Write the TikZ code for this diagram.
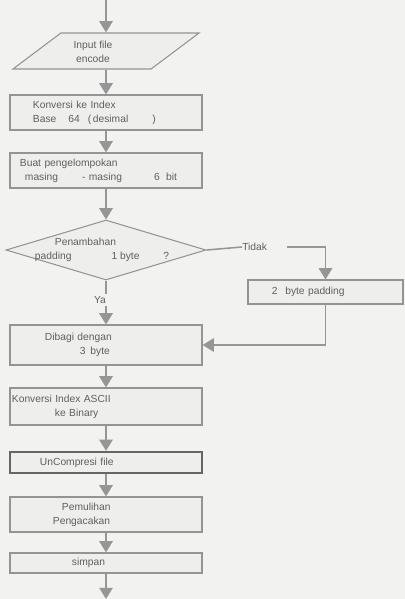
\documentclass[tikz,border=0pt]{standalone}
\usepackage{fontspec}
\setmainfont{Liberation Sans}
\usetikzlibrary{arrows.meta,shapes.geometric}

\definecolor{paper}{RGB}{242,242,240}
\definecolor{boxfill}{RGB}{238,238,236}
\definecolor{boxline}{RGB}{148,148,148}
\definecolor{linegray}{RGB}{150,150,150}
\definecolor{txtgray}{RGB}{95,95,95}

\begin{document}
\begin{tikzpicture}[x=0.025cm, y=-0.025cm,
    font=\fontsize{7.3}{10}\selectfont, text=txtgray,
    box/.style={draw=boxline, line width=0.75pt, fill=boxfill, rectangle,
      align=left, inner ysep=0pt, minimum width=4.8cm},
    flow/.style={draw=linegray, line width=1.3pt, -{Triangle[width=9.5pt,length=8pt]}},
    plain/.style={draw=linegray, line width=1.1pt}]

      \fill[paper] (0,0) rectangle (405,599);
      \useasboundingbox (0,0) rectangle (405,599);

      \coordinate (start) at (106,0);
      \coordinate (stop) at (106,599);

      \node[draw=boxline, line width=0.75pt, fill=boxfill, trapezium,
        trapezium left angle=62, trapezium right angle=118, trapezium stretches=true,
        minimum width=4.65cm, minimum height=0.9cm, inner sep=1pt] (inp) at (106,51) {};
      \node[align=center] (inptxt) at (93,51.5) {Input file\\encode};

      \node[box, minimum height=0.875cm, inner xsep=0.575cm, text width=3.65cm] (k64) at (106,112.5)
        {Konversi ke Index\\Base\hspace{0.3cm}64\hspace{0.2cm}(\,desimal\hspace{0.6cm})};

      \node[box, minimum height=0.875cm, inner xsep=0.25cm, text width=4.3cm] (grp) at (106,170.5)
        {Buat pengelompokan\\\hspace*{0.125cm}masing\hspace{0.6cm}- masing\hspace{0.8cm}6\hspace{0.16cm}bit};

      \node[draw=boxline, line width=0.75pt, fill=boxfill, diamond,
        minimum width=5cm, minimum height=1.5cm, inner sep=1pt] (dec) at (106,250) {};
      \node[align=left, anchor=west] (dectxt) at (30,250)
        {\hspace*{0.5cm}Penambahan\\padding\hspace{1cm}1 byte\hspace{0.6cm}?};

      \node[anchor=west, inner sep=0pt] (tidak) at (242,247) {Tidak};
      \node[box, minimum width=3.875cm, minimum height=0.6cm, inner xsep=0.6cm, text width=2.675cm]
        (pad2) at (325.5,292) {2\hspace{0.19cm}byte padding};

      \node[inner sep=1.5pt] (ya) at (100,300) {Ya};

      \node[box, minimum height=1cm, inner xsep=0.875cm, text width=3.05cm] (div3) at (106,345)
        {Dibagi dengan\\\hspace*{0.875cm}3\hspace{0.12cm}byte};

      \node[box, minimum height=0.925cm, inner xsep=0.05cm, text width=4.7cm] (ascii) at (106,406.5)
        {Konversi Index ASCII\\\hspace*{1.075cm}ke Binary};

      \node[box, draw=black!60, line width=1.6pt, minimum height=0.525cm, inner xsep=0.75cm,
        text width=3.3cm] (uncomp) at (106,462.5) {UnCompresi file};

      \node[box, minimum height=0.875cm, inner xsep=1.075cm, text width=2.65cm] (pemul) at (106,514.5)
        {\hspace*{0.225cm}Pemulihan\\Pengacakan};

      \node[box, minimum height=0.5cm, inner xsep=1.55cm, text width=1.7cm] (simpan) at (106,563) {simpan};

      \draw[flow] (start) -- (inp);
      \draw[flow] (inp) -- (k64);
      \draw[flow] (k64) -- (grp);
      \draw[flow] (grp) -- (dec);
      \draw[plain] (dec.east) -- (tidak.west);
      \draw[flow] ([xshift=0.5cm]tidak.east) -| (pad2.north);
      \draw[plain] (dec.south) -- (dec.south |- ya.north);
      \draw[flow] (dec.south |- ya.south) -- (div3.north);
      \draw[flow] (pad2.south) |- (div3.east);
      \draw[flow] (div3) -- (ascii);
      \draw[flow] (ascii) -- (uncomp);
      \draw[flow] (uncomp) -- (pemul);
      \draw[flow] (pemul) -- (simpan);
      \draw[flow] (simpan) -- (stop);
    \end{tikzpicture}
\end{document}
